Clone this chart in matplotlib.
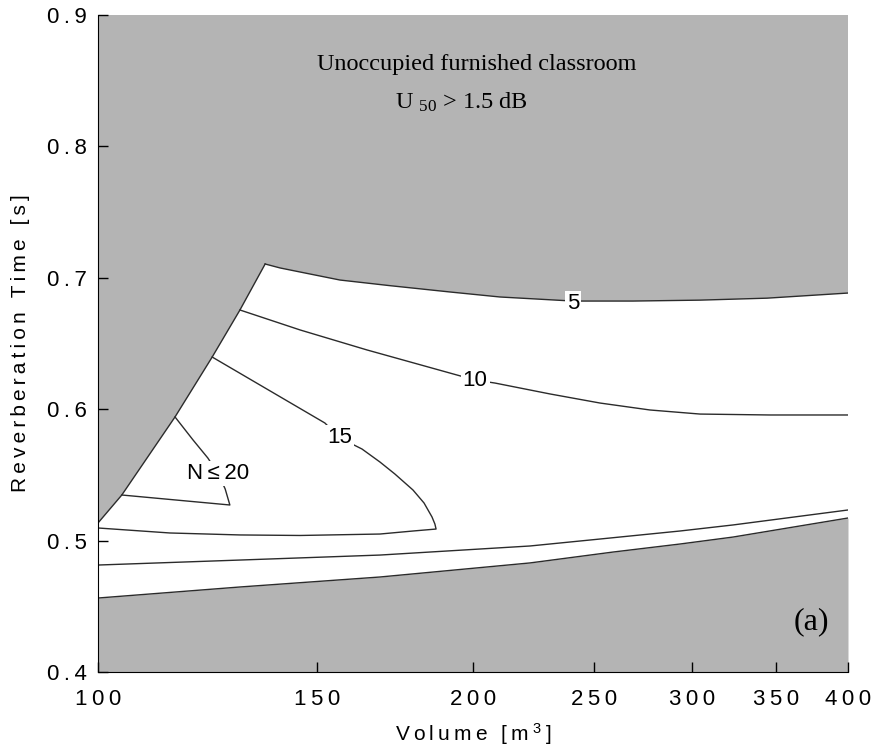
import matplotlib
matplotlib.use("Agg")
import matplotlib.pyplot as plt
from matplotlib.ticker import FixedLocator, NullLocator

plt.rcParams['mathtext.default'] = 'regular'

# borde izquierdo (limite de la zona sombreada superior)
borde_v = [100.0, 104.5, 115.3, 123.5, 130.0, 136.2]
borde_t = [0.5134, 0.5347, 0.5941, 0.6397, 0.6755, 0.7105]

# contorno N = 5
c5_v = [136.2, 140.0, 145.3, 156.4, 171.6, 191.7, 210.2, 240.6, 268.8, 304.3, 344.4, 400.0]
c5_t = [0.7105, 0.7075, 0.7044, 0.6983, 0.6940, 0.6892, 0.6854, 0.6823, 0.6823, 0.6830, 0.6845, 0.6884]

# contorno N = 10
c10_v = [130.0, 145.3, 164.4, 194.2, 200.8, 208.3, 230.6, 252.9, 277.4, 304.3, 346.3, 400.0]
c10_t = [0.6755, 0.6603, 0.6451, 0.6260, 0.6222, 0.6199, 0.6116, 0.6047, 0.5994, 0.5963, 0.5956, 0.5956]

# contorno N = 15
c15_v = [123.5, 152.1, 156.4, 162.9, 168.4, 173.1, 179.0, 182.7, 185.4, 186.4, 186.8,
         179.0, 168.4, 145.3, 130.0, 114.2, 100.0]
c15_t = [0.6397, 0.5895, 0.5781, 0.5697, 0.5598, 0.5507, 0.5385, 0.5286, 0.5180, 0.5126, 0.5088,
         0.5073, 0.5050, 0.5039, 0.5043, 0.5058, 0.5096]

# contorno N = 20
c20_v = [115.3, 119.2, 122.5, 124.8, 126.5, 127.6, 104.5]
c20_t = [0.5941, 0.5766, 0.5629, 0.5514, 0.5393, 0.5271, 0.5347]

# linea intermedia
med_v = [100.0, 130.0, 168.4, 222.2, 252.9, 293.2, 323.4, 400.0]
med_t = [0.4814, 0.4852, 0.4890, 0.4959, 0.5012, 0.5073, 0.5119, 0.5233]

# limite inferior (zona sombreada de abajo)
inf_v = [100.0, 130.0, 168.4, 222.2, 259.1, 293.2, 323.4, 400.0]
inf_t = [0.4563, 0.4647, 0.4723, 0.4830, 0.4913, 0.4974, 0.5027, 0.5172]

etiquetas = [("5", 240.6, 0.6801), ("10", 200.8, 0.6222), ("15", 156.4, 0.5781),
             ("N\u2009\u2264\u200920", 124.8, 0.5514)]

x_ticks = [100, 150, 200, 250, 300, 350, 400]
y_ticks = [0.4, 0.5, 0.6, 0.7, 0.8, 0.9]

cinza = '#b4b4b4'
linha = '#2b2b2b'
sans = ['Liberation Sans', 'DejaVu Sans']
serif = ['Liberation Serif', 'DejaVu Serif']
esp = '\u2009'


def espacado(s):
    return esp.join(s)


fig = plt.figure(figsize=(8.74, 7.56), dpi=100)
ax = fig.add_axes([98/874, 1 - 672/756, 750/874, 657/756])
ax.set_xscale('log')
ax.set_xlim(100, 400)
ax.set_ylim(0.4, 0.9)

# zona de cima
topo_v = [100.0] + borde_v + c5_v[1:] + [400.0]
topo_t = [0.9] + borde_t + c5_t[1:] + [0.9]
ax.fill(topo_v, topo_t, color=cinza, lw=0, zorder=1)
# zona de baixo
ax.fill_between(inf_v, 0.4, inf_t, color=cinza, lw=0, zorder=1)

for vv, tt in [(borde_v, borde_t), (c5_v, c5_t), (c10_v, c10_t), (c15_v, c15_t),
               (c20_v, c20_t), (med_v, med_t), (inf_v, inf_t)]:
    ax.plot(vv, tt, color=linha, lw=1.0, zorder=2, solid_joinstyle='round')

for txt, vx, ty in etiquetas:
    ax.text(vx, ty, txt, ha='center', va='center', fontsize=16,
            family=sans, zorder=3,
            bbox=dict(facecolor='white', edgecolor='none', pad=1.5))

ax.text(0.505, 0.925, 'Unoccupied furnished classroom', transform=ax.transAxes,
        ha='center', va='center', fontsize=17.5, family=serif)
ax.text(0.485, 0.867, r'U $_{50}$ > 1.5 dB', transform=ax.transAxes,
        ha='center', va='center', fontsize=17.5, family=serif)
ax.text(0.975, 0.077, '(a)', transform=ax.transAxes, ha='right', va='center',
        fontsize=23, family=serif)

ax.spines['top'].set_visible(False)
ax.spines['right'].set_visible(False)
ax.xaxis.set_major_locator(FixedLocator(x_ticks))
ax.xaxis.set_minor_locator(NullLocator())
ax.set_xticklabels([espacado(str(x)) for x in x_ticks])
ax.set_yticks(y_ticks)
ax.set_yticklabels([espacado(f"{y:.1f}") for y in y_ticks])
ax.tick_params(direction='in', length=7, width=1, labelsize=16)
ax.tick_params(axis='x', pad=12)
ax.tick_params(axis='y', pad=8)
for lab in ax.get_xticklabels() + ax.get_yticklabels():
    lab.set_family(sans)

ax.set_xlabel(espacado('Volume [m') + esp + '$^3$' + esp + ']', fontsize=15,
              family=sans, labelpad=8)
ax.set_ylabel(espacado('Reverberation Time [s]'), fontsize=15, family=sans, labelpad=12)

fig.savefig('out.png', dpi=100)
